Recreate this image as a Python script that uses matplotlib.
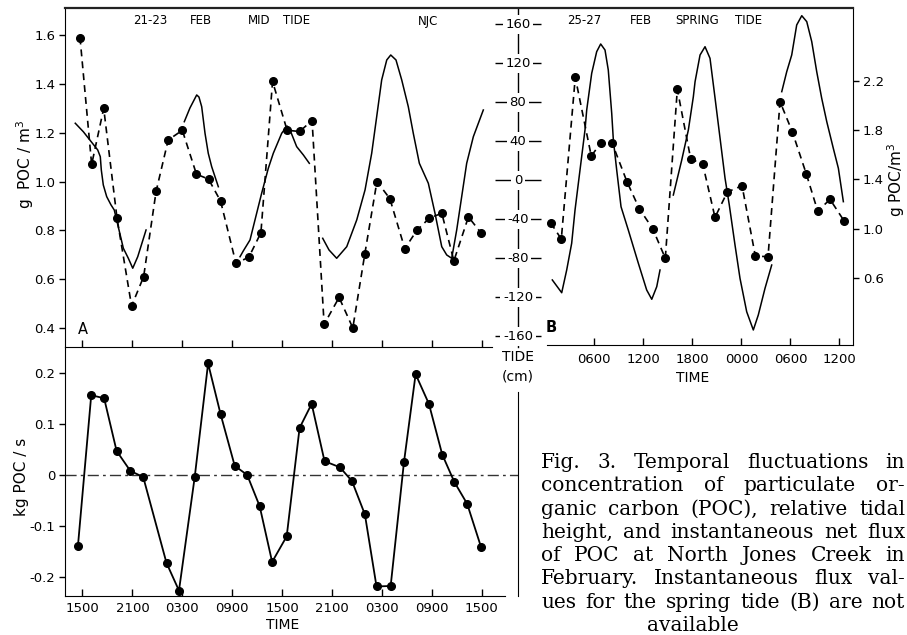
import numpy as np
import matplotlib
matplotlib.use('Agg')
import matplotlib.pyplot as plt
import matplotlib.transforms as mtransforms
from matplotlib.lines import Line2D

# ---------------- data ----------------
# Panel A (21-23 Feb, mid tide). time in hours after 1500 on 21 Feb
a_poc_t = [-0.3, 1.1, 2.55, 4.15, 5.9, 7.35, 8.85, 10.3, 12.0, 13.7, 15.15, 16.6,
           18.45, 20.0, 21.45, 22.85, 24.6, 26.1, 27.6, 29.05, 30.85, 32.5, 33.95,
           35.4, 36.95, 38.75, 40.2, 41.7, 43.2, 44.65, 46.4, 47.9]
a_poc = [1.59, 1.07, 1.30, 0.85, 0.49, 0.61, 0.96, 1.17, 1.21, 1.03, 1.01, 0.92,
         0.665, 0.69, 0.79, 1.41, 1.21, 1.205, 1.25, 0.415, 0.525, 0.40, 0.705,
         1.0, 0.93, 0.725, 0.80, 0.85, 0.87, 0.675, 0.855, 0.79]

a_tide1_t = [-0.87, 0.10, 1.83, 2.14, 2.26, 2.50, 2.91, 3.43, 3.82, 4.91, 5.51, 6.04, 6.64, 7.64]
a_tide1 = [58.7, 50.0, 31.3, 24.4, 10.8, -4.6, -16.6, -25.1, -30.3, -69.5, -79.8, -90.0, -78.2, -50.8]
a_tide2_t = [12.24, 12.92, 13.73, 14.0, 14.33, 14.73, 15.12, 15.53, 15.93, 16.33]
a_tide2 = [60.3, 74.4, 87.7, 85.6, 75.7, 48.4, 27.9, 14.2, 3.9, -6.4]
a_tide3_t = [18.94, 19.33, 20.14, 20.94, 21.54, 22.34, 22.94, 23.95, 24.59, 24.95, 25.75, 26.55, 27.27]
a_tide3 = [-78.2, -72.3, -61.0, -33.6, -13.1, 12.5, 27.9, 48.4, 55.9, 51.8, 34.7, 26.2, 17.6]
a_tide4_t = [28.88, 29.64, 30.56, 31.77, 32.97, 33.97, 34.77, 35.37, 35.97, 36.58, 37.06,
             37.69, 38.38, 39.17, 39.77, 40.5, 41.58, 42.38, 43.19, 43.79, 44.39, 44.99,
             45.59, 46.19, 46.99, 48.19]
a_tide4 = [-59.3, -71.3, -79.8, -67.9, -40.5, -9.7, 27.9, 65.4, 103.1, 123.6, 128.7,
           123.6, 103.1, 75.7, 48.4, 17.6, -2.9, -33.6, -67.9, -76.4, -79.8, -50.8,
           -16.6, 17.6, 44.9, 72.3]

# Panel B (25-27 Feb, spring tide). time in hours after 0000
b_poc_t = [0.66, 1.96, 3.67, 5.63, 6.82, 8.17, 10.0, 11.51, 13.15, 14.69, 16.16, 17.80,
           19.27, 20.77, 22.28, 24.08, 25.71, 27.26, 28.73, 30.23, 31.95, 33.34, 34.85, 36.56]
b_poc = [1.048, 0.915, 2.23, 1.59, 1.70, 1.698, 1.381, 1.162, 0.999, 0.759, 2.133, 1.566,
         1.525, 1.092, 1.298, 1.349, 0.777, 0.772, 2.032, 1.788, 1.444, 1.143, 1.238, 1.064]

b_tide1_t = [0.86, 2.01, 2.62, 3.23, 3.64, 4.25, 4.86, 5.07, 5.68, 6.29, 6.78, 7.31, 7.71,
             8.13, 8.33, 8.74, 9.27, 10.16, 11.39, 12.41, 13.03, 13.64, 14.04]
b_tide1 = [-102.0, -115.1, -91.8, -64.4, -30.3, 10.8, 51.8, 72.3, 109.9, 132.1, 140.0, 133.8,
           113.3, 68.9, 41.5, 10.8, -26.9, -50.8, -84.9, -112.3, -121.8, -108.9, -91.8]
b_tide2_t = [15.67, 16.70, 17.51, 18.12, 18.33, 18.94, 19.55, 20.16, 20.78, 21.39, 22.0,
             22.52, 23.22, 23.83, 24.65, 25.46, 26.07, 26.89, 27.71]
b_tide2 = [-14.9, 21.0, 51.8, 85.9, 101.3, 128.7, 137.2, 125.3, 84.3, 43.3, 2.3,
           -25.1, -66.2, -100.3, -134.6, -153.3, -137.9, -110.6, -86.7]
b_tide3_t = [28.94, 29.55, 30.16, 30.77, 31.39, 32.0, 32.61, 33.22, 33.83, 34.45, 35.25, 35.87, 36.48]
b_tide3 = [91.1, 111.6, 128.7, 159.5, 169.0, 162.9, 142.4, 111.6, 84.3, 60.3, 33.0, 12.5, -21.7]

# Flux (21-23 Feb), kg POC / s
f_t = [-0.55, 1.05, 2.6, 4.1, 5.75, 7.3, 10.1, 11.6, 13.5, 15.1, 16.6, 18.3, 19.8, 21.3,
       22.8, 24.55, 26.1, 27.55, 29.1, 30.95, 32.4, 33.95, 35.35, 37.05, 38.65, 40.05,
       41.65, 43.25, 44.7, 46.25, 47.9]
f_flux = [-0.139, 0.156, 0.150, 0.047, 0.008, -0.004, -0.172, -0.226, -0.003, 0.218, 0.119,
          0.018, 0.0, -0.061, -0.170, -0.120, 0.092, 0.139, 0.027, 0.015, -0.012, -0.077,
          -0.218, -0.217, 0.025, 0.197, 0.139, 0.040, -0.0135, -0.0565, -0.140]

# tick labels
a_time_ticks = [0, 6, 12, 18, 24, 30, 36, 42, 48]
a_time_labels = ['1500', '2100', '0300', '0900', '1500', '2100', '0300', '0900', '1500']
b_time_ticks = [6, 12, 18, 24, 30, 36]
b_time_labels = ['0600', '1200', '1800', '0000', '0600', '1200']
a_poc_ticks = [0.4, 0.6, 0.8, 1.0, 1.2, 1.4, 1.6]
a_poc_labels = ['0.4', '0.6', '0.8', '1.0', '1.2', '1.4', '1.6']
b_poc_ticks = [0.6, 1.0, 1.4, 1.8, 2.2]
b_poc_labels = ['0.6', '1.0', '1.4', '1.8', '2.2']
tide_ticks = [160, 120, 80, 40, 0, -40, -80, -120, -160]
tide_labels = ['160', '120', '80', '40', '0', '-40', '-80', '-120', '-160']
flux_ticks = [0.2, 0.1, 0.0, -0.1, -0.2]
flux_labels = ['0.2', '0.1', '0', '-0.1', '-0.2']

caption = ["Fig. 3. Temporal fluctuations in",
           "concentration of particulate or-",
           "ganic carbon (POC), relative tidal",
           "height, and instantaneous net flux",
           "of POC at North Jones Creek in",
           "February. Instantaneous flux val-",
           "ues for the spring tide (B) are not",
           "available"]

# ---------------- figure ----------------
plt.rcParams['font.family'] = ['DejaVu Sans']
plt.rcParams['lines.scale_dashes'] = False
W, H = 907, 635
fig = plt.figure(figsize=(W / 100, H / 100), dpi=100)


def box(x0, y0, x1, y1):
    return [x0 / W, 1 - y1 / H, (x1 - x0) / W, (y1 - y0) / H]


def ftxt(x, y, s, **kw):
    return fig.text(x / W, 1 - y / H, s, **kw)


TF = 9.5
dash = (0, (5, 3.6))
mk = dict(marker='o', ms=5.5, mfc='black', mec='black')

# ---- Panel A ----
axA = fig.add_axes(box(65, 8, 518, 347))
axAT = axA.twinx()
axA.set_xlim(-2.104, 52.36)
axA.set_ylim(0.322, 1.711)
axA.patch.set_alpha(0)
for s in ['top', 'right']:
    axA.spines[s].set_visible(False)
axA.spines['bottom'].set_bounds(-2.104, 49.2)
axA.yaxis.tick_left()
axA.set_yticks(a_poc_ticks)
axA.set_yticklabels(a_poc_labels, fontsize=TF)
axA.tick_params(axis='y', direction='out', length=4, width=1, pad=3)
axA.set_xticks(a_time_ticks)
axA.tick_params(axis='x', direction='in', length=5, width=1, labelbottom=False)
axA.plot(a_poc_t, a_poc, color='black', lw=1.2, ls=dash, **mk, zorder=3)
ftxt(25, 165, 'g  POC / m$^3$', fontsize=11, rotation=90, ha='center', va='center')

axAT.set_ylim(-170.8, 176.9)
for s in ['top', 'left', 'bottom']:
    axAT.spines[s].set_visible(False)
axAT.spines['right'].set_linewidth(1)
for tt, tv in [(a_tide1_t, a_tide1), (a_tide2_t, a_tide2), (a_tide3_t, a_tide3), (a_tide4_t, a_tide4)]:
    axAT.plot(tt, tv, color='black', lw=1.1)
axAT.set_yticks(tide_ticks)
axAT.tick_params(axis='y', direction='inout', length=33, width=1, right=True, labelright=False)
trT = mtransforms.blended_transform_factory(axAT.transAxes, axAT.transData)
for v, lab in zip(tide_ticks, tide_labels):
    axAT.text(1.0, v, lab, transform=trT, ha='center', va='center', fontsize=TF,
              bbox=dict(boxstyle='square,pad=0.2', fc='white', ec='none'), zorder=6, clip_on=False)

# ---- Panel B ----
axB = fig.add_axes(box(547, 8, 853, 345))
axBT = axB.twinx()
axB.set_xlim(0.21, 37.66)
axB.set_ylim(0.054, 2.794)
axB.patch.set_alpha(0)
for s in ['top', 'left']:
    axB.spines[s].set_visible(False)
axB.set_yticks(b_poc_ticks)
axB.set_yticklabels(b_poc_labels, fontsize=TF)
axB.yaxis.tick_right()
axB.tick_params(axis='y', direction='out', length=4, width=1, pad=3,
                left=False, labelleft=False, right=True, labelright=True)
axB.set_xticks(b_time_ticks)
axB.set_xticklabels(b_time_labels, fontsize=TF)
axB.tick_params(axis='x', direction='in', length=5, width=1, pad=6)
axB.plot(b_poc_t, b_poc, color='black', lw=1.2, ls=dash, **mk, zorder=3)
ftxt(693, 378, 'TIME', fontsize=10, ha='center', va='center')
ftxt(896, 180, 'g POC/m$^3$', fontsize=11, rotation=90, ha='center', va='center')

axBT.set_ylim(-168.7, 176.9)
axBT.axis('off')
for tt, tv in [(b_tide1_t, b_tide1), (b_tide2_t, b_tide2), (b_tide3_t, b_tide3)]:
    axBT.plot(tt, tv, color='black', lw=1.1)

# ---- Flux panel ----
axF = fig.add_axes(box(65, 347, 518, 596))
axF.set_xlim(-2.104, 52.36)
axF.set_ylim(-0.2366, 0.2502)
axF.patch.set_alpha(0)
axF.spines['top'].set_visible(False)
axF.spines['right'].set_bounds(-0.2366, 0.162)
axF.spines['bottom'].set_bounds(-2.104, 50.8)
axF.set_yticks(flux_ticks)
axF.set_yticklabels(flux_labels, fontsize=TF)
axF.tick_params(axis='y', direction='out', length=4, width=1, pad=3, right=False)
axF.set_xticks(a_time_ticks)
axF.set_xticklabels(a_time_labels, fontsize=TF)
axF.tick_params(axis='x', direction='in', length=5, width=1, pad=4)
axF.axhline(0, color='#333333', lw=1.0, ls=(0, (8, 3, 2, 3)))
axF.plot(f_t, f_flux, color='black', lw=1.3, **mk, zorder=3)
ftxt(283, 625, 'TIME', fontsize=10, ha='center', va='center')
ftxt(22, 477, 'kg POC / s', fontsize=11, rotation=90, ha='center', va='center')

# ---- frame line on top ----
fig.add_artist(Line2D([65 / W, 853 / W], [1 - 8 / H, 1 - 8 / H], color='#222222', lw=1.6))

hdr = dict(fontsize=8.5, va='center', ha='left')
for x, s in [(133, '21-23'), (190, 'FEB'), (248, 'MID'), (283, 'TIDE'), (418, 'NJC'),
             (567, '25-27'), (630, 'FEB'), (675, 'SPRING'), (735, 'TIDE')]:
    ftxt(x, 21, s, **hdr)
ftxt(78, 330, 'A', fontsize=10.5, va='center', ha='left')
ftxt(546, 328, 'B', fontsize=10.5, va='center', ha='left', fontweight='bold')
ftxt(518, 357, 'TIDE', fontsize=10, ha='center', va='center')
ftxt(518, 376, '(cm)', fontsize=10, ha='center', va='center')

# ---- caption (justified) ----
renderer = fig.canvas.get_renderer()
L, R = 541, 905
for i, line in enumerate(caption):
    yb = 468 + 23.3 * i
    fs = 14.5
    if i == len(caption) - 1:
        ftxt(693, yb, line, fontsize=fs, family='DejaVu Serif', va='baseline', ha='center')
        continue
    words = line.split(' ')
    while True:
        objs = [ftxt(L, yb, w, fontsize=fs, family='DejaVu Serif', va='baseline', ha='left')
                for w in words]
        widths = [o.get_window_extent(renderer).width for o in objs]
        gap = (R - L - sum(widths)) / (len(words) - 1)
        if gap >= 4.5 or fs < 9:
            break
        for o in objs:
            o.remove()
        fs -= 0.25
    x = L
    for o, w in zip(objs, widths):
        o.set_x(x / W)
        x += w + gap

fig.savefig('out.png', dpi=100)
